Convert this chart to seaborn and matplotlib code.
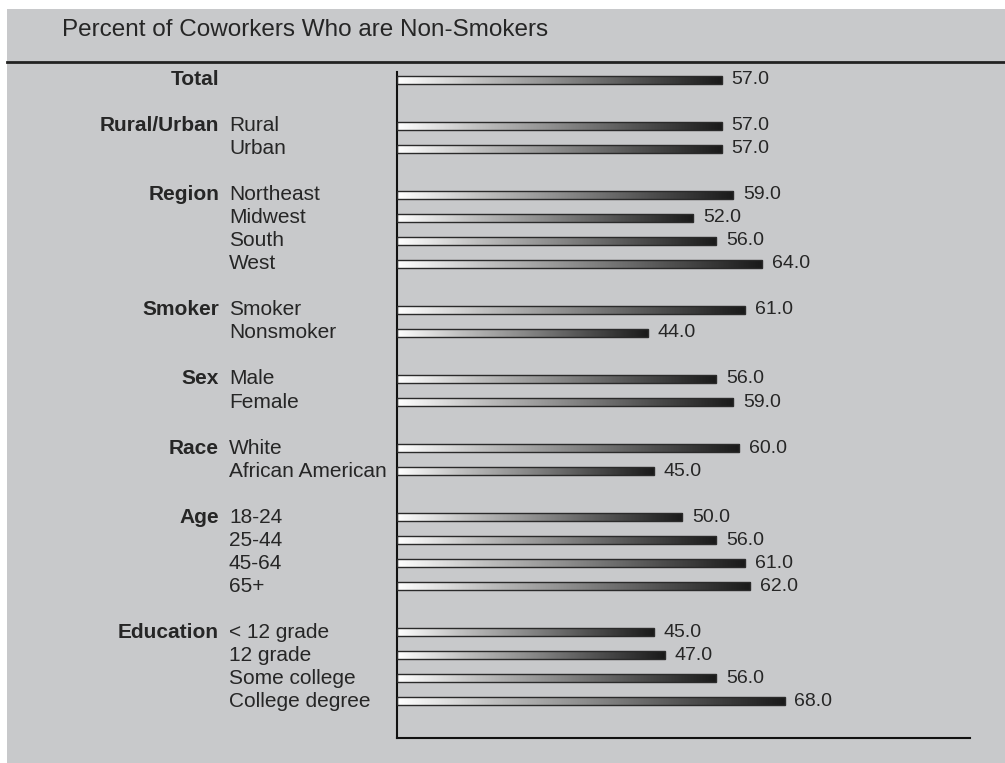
import numpy as np
import pandas as pd
import seaborn as sns
import matplotlib.pyplot as plt
import matplotlib.colors as mcolors
from matplotlib.patches import Rectangle

# data
groups = ['Total', 'Rural/Urban', 'Region', 'Smoker', 'Sex', 'Race', 'Age', 'Education']
items = [
    [''],
    ['Rural', 'Urban'],
    ['Northeast', 'Midwest', 'South', 'West'],
    ['Smoker', 'Nonsmoker'],
    ['Male', 'Female'],
    ['White', 'African American'],
    ['18-24', '25-44', '45-64', '65+'],
    ['< 12 grade', '12 grade', 'Some college', 'College degree'],
]
values = [
    [57.0],
    [57.0, 57.0],
    [59.0, 52.0, 56.0, 64.0],
    [61.0, 44.0],
    [56.0, 59.0],
    [60.0, 45.0],
    [50.0, 56.0, 61.0, 62.0],
    [45.0, 47.0, 56.0, 68.0],
]
title = 'Percent of Coworkers Who are Non-Smokers'

bg = '#c8c9cb'
txt = '#262626'

# build rows, one empty slot between groups
rows = []
order = []
for gi, (g, its, vals) in enumerate(zip(groups, items, values)):
    if gi > 0:
        order.append(f'gap{gi}')
    for j, (it, v) in enumerate(zip(its, vals)):
        key = f'{g}|{it}'
        order.append(key)
        rows.append({'key': key, 'group': g if j == 0 else '', 'item': it, 'value': v})
df = pd.DataFrame(rows)

plt.rcParams['font.family'] = ['Liberation Sans', 'DejaVu Sans']

fig = plt.figure(figsize=(10.05, 7.63), dpi=100, facecolor='white')
fig.patches.append(Rectangle((7 / 1005, 0), 1, (763 - 9) / 763, transform=fig.transFigure,
                             facecolor=bg, edgecolor='none', zorder=-10))
ax = fig.add_axes([397 / 1005, 25 / 763, 573 / 1005, 666 / 763])
ax.set_facecolor(bg)

sns.barplot(data=df, x='value', y='key', order=order, orient='h', width=0.33,
            color='gray', ax=ax)

cmap = mcolors.LinearSegmentedColormap.from_list(
    'bar', ['#ffffff', '#c0c0c0', '#8a8a8a', '#505050', '#1a1a1a'])
grad = np.linspace(0, 1, 256).reshape(1, -1)
for p in list(ax.patches):
    w = p.get_width()
    if not np.isfinite(w) or w <= 0:
        continue
    x0, y0 = p.get_x(), p.get_y()
    h = p.get_height()
    im = ax.imshow(grad, extent=[x0, x0 + w, y0 + h, y0], aspect='auto', cmap=cmap,
                   zorder=2, interpolation='bilinear')
    im.set_clip_path(p)
    p.set_facecolor('none')
    p.set_edgecolor('#2a2a2a')
    p.set_linewidth(1.0)
    p.set_zorder(3)

# labels
ytr = ax.get_yaxis_transform()
for _, r in df.iterrows():
    y = order.index(r['key'])
    if r['group']:
        ax.text(-0.3106, y, r['group'], transform=ytr, ha='right', va='center',
                fontsize=15, fontweight='bold', color=txt)
    if r['item']:
        ax.text(-0.2932, y, r['item'], transform=ytr, ha='left', va='center',
                fontsize=15, color=txt)
    ax.annotate(f"{r['value']:.1f}", (r['value'], y), xytext=(7, 0),
                textcoords='offset points', ha='left', va='center',
                fontsize=14, color=txt)

ax.set_xlim(0, 100.5)
ax.set_ylim(len(order) - 1 + 1.6, -0.34)
ax.set_xlabel('')
ax.set_ylabel('')
ax.set_xticks([])
ax.set_yticks([])
for s in ['top', 'right']:
    ax.spines[s].set_visible(False)
for s in ['left', 'bottom']:
    ax.spines[s].set_color('#111111')
    ax.spines[s].set_linewidth(1.5)

fig.text(62 / 1005, 1 - 30 / 763, title, ha='left', va='center', fontsize=17.5, color=txt)
fig.add_artist(plt.Line2D([7 / 1005, 1], [1 - 62 / 763] * 2, transform=fig.transFigure,
                          color='#222222', linewidth=2))

fig.savefig('out.png', dpi=100, facecolor=fig.get_facecolor())
